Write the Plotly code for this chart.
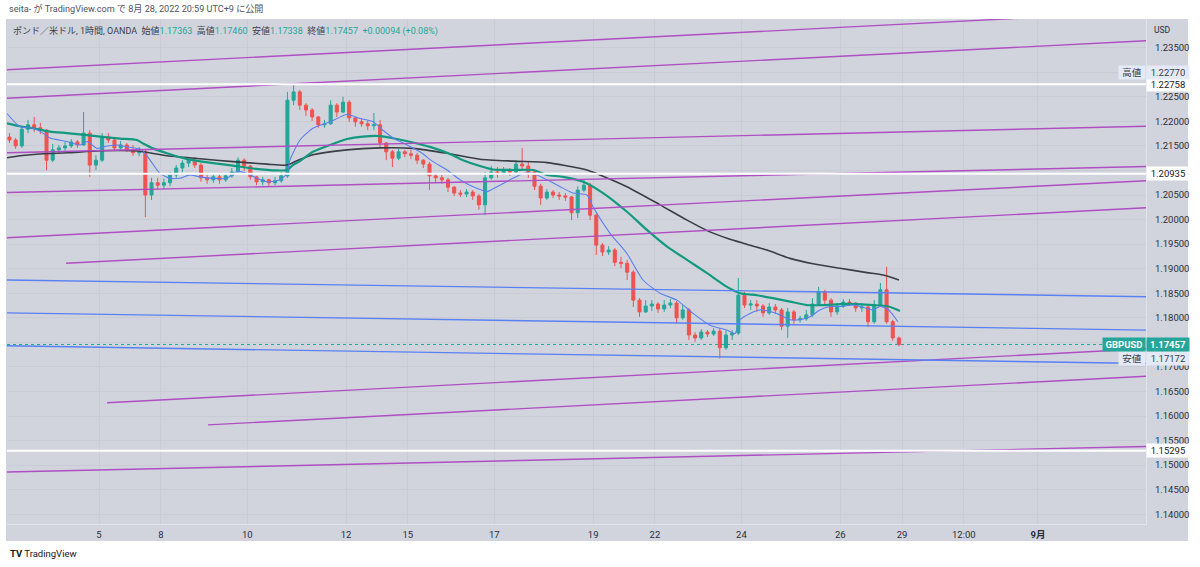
import plotly.graph_objects as go

# ---------------- data ----------------
# GBPUSD, OANDA. x unit = one hourly bar counted from Wed Aug 3 00:00 (JST), weekends removed.
# Candles are aggregated to 3-hour bars; first bar starts at hour 3.
BAR_HOURS = 3
FIRST_BAR_HOUR = 3
first_open = 1.2168

closes = [
    1.2162, 1.2150, 1.2184, 1.2193, 1.2187, 1.2182, 1.2121, 1.2142, 1.2146, 1.2150,
    1.2158, 1.2152, 1.2176, 1.2111, 1.2121, 1.2168, 1.2162, 1.2146, 1.2152, 1.2142,
    1.2136, 1.2138, 1.2050, 1.2075, 1.2070, 1.2075, 1.2091, 1.2105, 1.2115, 1.2121,
    1.2111, 1.2085, 1.2081, 1.2087, 1.2081, 1.2089, 1.2097, 1.2121, 1.2109, 1.2087,
    1.2077, 1.2081, 1.2075, 1.2079, 1.2089, 1.2243, 1.2260, 1.2233, 1.2223, 1.2209,
    1.2193, 1.2195, 1.2233, 1.2219, 1.2239, 1.2207, 1.2199, 1.2195, 1.2191, 1.2193,
    1.2156, 1.2138, 1.2125, 1.2138, 1.2134, 1.2131, 1.2121, 1.2113, 1.2089, 1.2085,
    1.2081, 1.2066, 1.2054, 1.2052, 1.2056, 1.2048, 1.2030, 1.2085, 1.2097, 1.2093,
    1.2101, 1.2097, 1.2113, 1.2109, 1.2097, 1.2068, 1.2044, 1.2056, 1.2050, 1.2048,
    1.2046, 1.2014, 1.2060, 1.2070, 1.2009, 1.1948, 1.1934, 1.1938, 1.1913, 1.1911,
    1.1893, 1.1836, 1.1812, 1.1824, 1.1828, 1.1818, 1.1826, 1.1830, 1.1800, 1.1816,
    1.1765, 1.1759, 1.1771, 1.1767, 1.1773, 1.1739, 1.1765, 1.1769, 1.1846, 1.1826,
    1.1828, 1.1824, 1.1810, 1.1822, 1.1816, 1.1783, 1.1812, 1.1796, 1.1798, 1.1806,
    1.1828, 1.1853, 1.1836, 1.1812, 1.1824, 1.1832, 1.1830, 1.1820, 1.1822, 1.1792,
    1.1826, 1.1857, 1.1792, 1.1759, 1.17457,
]
highs = [
    1.2176, 1.2166, 1.2191, 1.2203, 1.2209, 1.2197, 1.2184, 1.2154, 1.2152, 1.2158,
    1.2164, 1.2162, 1.2219, 1.2182, 1.2131, 1.2176, 1.2176, 1.2166, 1.2160, 1.2156,
    1.2152, 1.2148, 1.2142, 1.2085, 1.2085, 1.2083, 1.2097, 1.2111, 1.2121, 1.2127,
    1.2127, 1.2115, 1.2091, 1.2093, 1.2091, 1.2095, 1.2105, 1.2127, 1.2125, 1.2111,
    1.2089, 1.2087, 1.2083, 1.2087, 1.2097, 1.2260, 1.2277, 1.2264, 1.2237, 1.2227,
    1.2211, 1.2203, 1.2243, 1.2237, 1.2250, 1.2243, 1.2209, 1.2205, 1.2201, 1.2217,
    1.2203, 1.2158, 1.2142, 1.2144, 1.2142, 1.2142, 1.2136, 1.2123, 1.2117, 1.2093,
    1.2091, 1.2085, 1.2068, 1.2060, 1.2062, 1.2060, 1.2052, 1.2097, 1.2109, 1.2107,
    1.2107, 1.2105, 1.2121, 1.2146, 1.2117, 1.2101, 1.2073, 1.2062, 1.2060, 1.2056,
    1.2054, 1.2048, 1.2068, 1.2081, 1.2075, 1.2013, 1.1952, 1.1946, 1.1942, 1.1924,
    1.1918, 1.1897, 1.1840, 1.1836, 1.1836, 1.1832, 1.1836, 1.1838, 1.1834, 1.1826,
    1.1820, 1.1771, 1.1777, 1.1775, 1.1779, 1.1779, 1.1775, 1.1775, 1.1881, 1.1853,
    1.1836, 1.1836, 1.1828, 1.1830, 1.1828, 1.1820, 1.1820, 1.1816, 1.1804, 1.1816,
    1.1840, 1.1863, 1.1857, 1.1840, 1.1830, 1.1838, 1.1838, 1.1832, 1.1830, 1.1824,
    1.1836, 1.1871, 1.1904, 1.1796, 1.1762,
]
lows = [
    1.2156, 1.2144, 1.2146, 1.2176, 1.2178, 1.2174, 1.2101, 1.2117, 1.2136, 1.2140,
    1.2146, 1.2146, 1.2150, 1.2087, 1.2101, 1.2117, 1.2156, 1.2140, 1.2142, 1.2138,
    1.2130, 1.2129, 1.2005, 1.2040, 1.2060, 1.2062, 1.2068, 1.2085, 1.2097, 1.2107,
    1.2105, 1.2077, 1.2073, 1.2075, 1.2073, 1.2077, 1.2085, 1.2095, 1.2099, 1.2081,
    1.2070, 1.2070, 1.2068, 1.2070, 1.2075, 1.2085, 1.2233, 1.2223, 1.2211, 1.2201,
    1.2187, 1.2187, 1.2193, 1.2209, 1.2217, 1.2199, 1.2189, 1.2189, 1.2182, 1.2182,
    1.2146, 1.2121, 1.2107, 1.2121, 1.2127, 1.2123, 1.2113, 1.2105, 1.2060, 1.2075,
    1.2073, 1.2056, 1.2048, 1.2046, 1.2046, 1.2040, 1.2020, 1.2009, 1.2081, 1.2085,
    1.2091, 1.2089, 1.2095, 1.2101, 1.2085, 1.2060, 1.2030, 1.2040, 1.2044, 1.2040,
    1.2038, 1.1999, 1.2003, 1.2056, 1.1999, 1.1928, 1.1926, 1.1928, 1.1905, 1.1901,
    1.1877, 1.1822, 1.1802, 1.1810, 1.1814, 1.1810, 1.1812, 1.1820, 1.1789, 1.1796,
    1.1755, 1.1751, 1.1755, 1.1761, 1.1763, 1.1717, 1.1735, 1.1755, 1.1765, 1.1820,
    1.1816, 1.1812, 1.1802, 1.1806, 1.1808, 1.1775, 1.1759, 1.1788, 1.1790, 1.1794,
    1.1802, 1.1824, 1.1826, 1.1802, 1.1806, 1.1820, 1.1824, 1.1812, 1.1812, 1.1781,
    1.1788, 1.1822, 1.1788, 1.1753, 1.1742,
]

# moving averages, (hour, price) points
ma_fast = [(3.3, 1.2216), (9.6, 1.2189), (15.9, 1.2186), (20.8, 1.2176), (24.2, 1.2166), (32.4, 1.2159),
           (38.8, 1.2152), (42.2, 1.2159), (47.0, 1.2145), (49.9, 1.2148), (56.7, 1.2152), (61.6, 1.2148),
           (66.4, 1.2145), (68.9, 1.2142), (72.8, 1.2121), (77.6, 1.2094), (82.5, 1.2084), (87.3, 1.2084),
           (92.2, 1.2091), (97.0, 1.2087), (103.4, 1.2084), (110.1, 1.2084), (115.0, 1.2098), (119.9, 1.2094),
           (124.7, 1.2084), (129.6, 1.2077), (135.9, 1.2081), (139.3, 1.2094), (140.7, 1.2121), (145.6, 1.2162),
           (151.9, 1.2186), (160.2, 1.2199), (168.4, 1.2214), (174.7, 1.2206), (181.1, 1.2199), (185.9, 1.2182),
           (190.8, 1.2166), (197.6, 1.2152), (203.9, 1.2138), (210.2, 1.2118), (217.0, 1.2101), (223.3, 1.2081),
           (229.6, 1.2067), (236.4, 1.2057), (241.3, 1.2067), (249.1, 1.2084), (253.9, 1.2094), (258.8, 1.2094),
           (265.6, 1.2081), (271.9, 1.2067), (278.2, 1.2054), (285.0, 1.2050), (287.9, 1.2026), (296.2, 1.1972),
           (304.4, 1.1931), (312.2, 1.1877), (320.5, 1.1850), (328.7, 1.1836), (336.5, 1.1809), (344.7, 1.1785),
           (353.0, 1.1775), (356.9, 1.1768), (359.3, 1.1796), (364.2, 1.1809), (369.0, 1.1816), (373.9, 1.1813),
           (378.7, 1.1806), (383.6, 1.1796), (388.4, 1.1796), (393.3, 1.1802), (398.1, 1.1816), (403.0, 1.1823),
           (407.9, 1.1823), (414.2, 1.1826), (421.0, 1.1819), (423.9, 1.1816), (427.3, 1.1823), (430.7, 1.1819),
           (433.6, 1.1806), (436.0, 1.1792)]
ma_mid = [(3.3, 1.2196), (9.6, 1.2190), (15.9, 1.2186), (24.2, 1.2179), (32.4, 1.2176), (42.2, 1.2172),
          (48.5, 1.2169), (58.2, 1.2165), (66.4, 1.2162), (69.4, 1.2155), (74.2, 1.2145), (81.0, 1.2135),
          (87.3, 1.2127), (93.6, 1.2121), (103.4, 1.2115), (113.1, 1.2110), (122.8, 1.2104), (134.4, 1.2100),
          (139.3, 1.2101), (142.2, 1.2111), (145.6, 1.2119), (151.9, 1.2138), (160.2, 1.2152), (168.4, 1.2164),
          (176.2, 1.2169), (184.5, 1.2170), (192.7, 1.2164), (200.5, 1.2157), (208.7, 1.2148), (217.0, 1.2136),
          (224.8, 1.2121), (233.0, 1.2109), (239.3, 1.2102), (249.1, 1.2101), (258.8, 1.2101), (265.6, 1.2091),
          (273.3, 1.2087), (283.1, 1.2077), (292.8, 1.2054), (304.4, 1.2016), (314.1, 1.1979), (323.9, 1.1945),
          (333.6, 1.1918), (343.3, 1.1891), (353.0, 1.1863), (359.3, 1.1850), (367.6, 1.1846), (375.3, 1.1840),
          (383.6, 1.1833), (391.8, 1.1826), (399.6, 1.1826), (407.9, 1.1828), (416.1, 1.1828), (423.9, 1.1826),
          (430.7, 1.1824), (433.6, 1.1820), (437.0, 1.1814)]
ma_slow = [(3.3, 1.2126), (9.6, 1.2130), (20.8, 1.2134), (32.4, 1.2136), (48.5, 1.2140), (64.5, 1.2140),
           (69.4, 1.2138), (81.0, 1.2130), (97.0, 1.2124), (113.1, 1.2118), (129.6, 1.2113), (139.3, 1.2111),
           (144.1, 1.2120), (151.9, 1.2132), (168.4, 1.2142), (184.5, 1.2146), (200.5, 1.2145), (217.0, 1.2135),
           (233.0, 1.2123), (249.1, 1.2119), (265.6, 1.2116), (274.3, 1.2110), (285.0, 1.2101), (291.3, 1.2091),
           (304.4, 1.2067), (320.5, 1.2030), (333.6, 1.1999), (344.7, 1.1975), (353.0, 1.1962), (360.8, 1.1952),
           (372.4, 1.1938), (383.6, 1.1921), (394.8, 1.1910), (407.9, 1.1901), (421.0, 1.1892), (428.8, 1.1887),
           (436.5, 1.1877)]

# user-drawn trend lines: (hour0, price0, hour1, price1)
purple_lines = [
    (3.3, 1.2305, 556.5, 1.2423),
    (3.3, 1.2247, 556.5, 1.2364),
    (3.3, 1.2136, 556.5, 1.2190),
    (3.3, 1.2055, 556.5, 1.2108),
    (3.3, 1.1963, 556.5, 1.2079),
    (32.0, 1.1911, 556.5, 1.2024),
    (51.9, 1.1627, 556.5, 1.1737),
    (100.9, 1.1582, 556.5, 1.1681),
    (3.3, 1.1486, 556.5, 1.1538),
]
blue_lines = [
    (3.3, 1.1877, 556.5, 1.1843),
    (3.3, 1.1810, 556.5, 1.1775),
    (3.3, 1.1743, 556.5, 1.1707),
]
white_levels = [1.22758, 1.20935, 1.15295]

last_price = 1.17457
high_price = 1.22770
low_price = 1.17172
high_label_pos = 1.2300   # TradingView nudges the high label up to avoid overlap

x_tick_vals = [48, 78, 120, 168, 198, 240, 288, 318, 360, 408, 438, 468, 504]
x_tick_text = ["5", "8", "10", "12", "15", "17", "19", "22", "24", "26", "29", "12:00", "<b>9月</b>"]
y_tick_vals = [1.140, 1.145, 1.150, 1.155, 1.160, 1.165, 1.170, 1.175, 1.180, 1.185,
               1.190, 1.195, 1.200, 1.205, 1.210, 1.215, 1.220, 1.225, 1.230, 1.235]
# labels hidden behind the price boxes in the reference are left blank
y_tick_text = ["1.14000", "1.14500", "1.15000", "1.15500", "1.16000", "1.16500", "1.17000", "", "1.18000",
               "1.18500", "1.19000", "1.19500", "1.20000", "1.20500", "", "1.21500", "1.22000", "1.22500",
               "", "1.23500"]

header_ohlc = [("始値", "1.17363"), ("高値", "1.17460"), ("安値", "1.17338"), ("終値", "1.17457")]
header_change = "+0.00094 (+0.08%)"

X_RANGE = [3.3, 556.5]
Y_RANGE = [1.13802, 1.24084]

# ---------------- styling ----------------
FONT = "Roboto, 'Noto Sans CJK JP', sans-serif"
BG = "#d1d4dc"
GRID = "#c9ccd4"
UP = "#26a69a"
DOWN = "#ef5350"
PURPLE = "#b04ec4"
BLUE = "#5a80f4"
TEXT = "#2a2e39"
FS = 9.5

assert len(closes) == len(highs) == len(lows)
n = len(closes)
xs = [FIRST_BAR_HOUR + BAR_HOURS * k + BAR_HOURS / 2 for k in range(n)]
opens = [first_open] + closes[:-1]

fig = go.Figure()

fig.add_trace(go.Candlestick(
    x=xs, open=opens, high=highs, low=lows, close=closes,
    increasing=dict(line=dict(color=UP, width=1), fillcolor=UP),
    decreasing=dict(line=dict(color=DOWN, width=1), fillcolor=DOWN),
    whiskerwidth=0, hoverinfo="skip",
))

for pts, color, width in [(ma_slow, "#3a3d45", 1.6), (ma_mid, "#12997f", 2.2), (ma_fast, "#5b7ef2", 1.1)]:
    fig.add_trace(go.Scatter(x=[p[0] for p in pts], y=[p[1] for p in pts], mode="lines",
                             line=dict(color=color, width=width, shape="spline", smoothing=0.6),
                             hoverinfo="skip"))

for (x0, y0, x1, y1) in purple_lines:
    fig.add_trace(go.Scatter(x=[x0, x1], y=[y0, y1], mode="lines",
                             line=dict(color=PURPLE, width=1.4), hoverinfo="skip"))
for (x0, y0, x1, y1) in blue_lines:
    fig.add_trace(go.Scatter(x=[x0, x1], y=[y0, y1], mode="lines",
                             line=dict(color=BLUE, width=1.4), hoverinfo="skip"))
for lv in white_levels:
    fig.add_trace(go.Scatter(x=X_RANGE, y=[lv, lv], mode="lines",
                             line=dict(color="#ffffff", width=2), hoverinfo="skip"))

fig.add_trace(go.Scatter(x=X_RANGE, y=[last_price, last_price], mode="lines",
                         line=dict(color=UP, width=1, dash="dot"), hoverinfo="skip"))

# ---------------- layout ----------------
W, H = 1200, 567
L, R, T, B = 7, 54, 19, 43
PW, PH = W - L - R, H - T - B


def px_to_paper_x(px):
    return (px - L) / PW


def py_to_paper_y(py):
    return (H - B - py) / PH


fig.update_layout(
    width=W, height=H,
    margin=dict(l=L, r=R, t=T, b=B, pad=0),
    paper_bgcolor="#ffffff", plot_bgcolor=BG,
    showlegend=False, hovermode=False,
    font=dict(family=FONT, size=FS, color=TEXT),
    xaxis=dict(range=X_RANGE, tickmode="array", tickvals=x_tick_vals, ticktext=x_tick_text,
               showgrid=True, gridcolor=GRID, gridwidth=1, zeroline=False,
               showline=True, linecolor="#e2e4ea", linewidth=1, ticks="", ticklen=0,
               ticklabelstandoff=2, rangeslider=dict(visible=False),
               tickfont=dict(size=FS, color=TEXT)),
    yaxis=dict(range=Y_RANGE, side="right", tickmode="array", tickvals=y_tick_vals, ticktext=y_tick_text,
               showgrid=True, gridcolor=GRID, gridwidth=1, zeroline=False,
               showline=True, linecolor="#e2e4ea", linewidth=1, ticks="", ticklen=0,
               ticklabelstandoff=6, tickfont=dict(size=FS, color=TEXT)),
)

# chart frame background (covers axis bands)
fig.add_shape(type="rect", xref="paper", yref="paper",
              x0=px_to_paper_x(6), x1=px_to_paper_x(1188), y0=py_to_paper_y(541), y1=1,
              fillcolor=BG, line=dict(width=0), layer="below")

ann = []
# top publish line
ann.append(dict(xref="paper", yref="paper", x=px_to_paper_x(7), y=py_to_paper_y(9),
                xanchor="left", yanchor="middle", showarrow=False,
                text="seita- が TradingView.com で 8月 28, 2022 20:59 UTC+9 に公開",
                font=dict(size=9.1, color="#50535e")))
# legend / OHLC header
parts = ["ポンド／米ドル, 1時間, OANDA"]
for lab, val in header_ohlc:
    parts.append(f'{lab}<span style="color:{UP}">{val}</span>')
parts.append(f'<span style="color:{UP}">{header_change}</span>')
ann.append(dict(xref="paper", yref="paper", x=px_to_paper_x(11), y=py_to_paper_y(31),
                xanchor="left", yanchor="middle", showarrow=False,
                text="\u00a0\u00a0".join(parts), font=dict(size=9.0, color="#3a3e49")))
# USD label
ann.append(dict(xref="paper", yref="paper", x=px_to_paper_x(1152), y=py_to_paper_y(30),
                xanchor="left", yanchor="middle", showarrow=False, text="USD",
                font=dict(size=8.5, color=TEXT)))

AX_L = px_to_paper_x(1146)


def axis_box(price, text, bg, fg, width=40):
    return dict(xref="paper", yref="y", x=AX_L, y=price, xanchor="left", yanchor="middle",
                showarrow=False, text=text, bgcolor=bg, borderpad=1, width=width, align="center",
                font=dict(size=FS, color=fg))


def left_box(price, text, bg, fg, width):
    return dict(xref="paper", yref="y", x=1.0, y=price, xanchor="right", yanchor="middle",
                showarrow=False, text=text, bgcolor=bg, borderpad=1, width=width, align="center",
                font=dict(size=FS, color=fg))


LIGHT = "#e3eaf6"
for lv in white_levels:
    ann.append(axis_box(lv, f"{lv:.5f}", "#ffffff", "#131722"))
ann.append(axis_box(high_label_pos, f"{high_price:.5f}", LIGHT, "#3a3e49"))
ann.append(left_box(high_label_pos, "高値", LIGHT, "#3a3e49", 24))
ann.append(axis_box(low_price, f"{low_price:.5f}", LIGHT, "#3a3e49"))
ann.append(left_box(low_price, "安値", LIGHT, "#3a3e49", 24))
ann.append(axis_box(last_price, f"<b>{last_price:.5f}</b>", UP, "#ffffff"))
ann.append(left_box(last_price, "<b>GBPUSD</b>", UP, "#ffffff", 40))

# TradingView footer
ann.append(dict(xref="paper", yref="paper", x=px_to_paper_x(8), y=py_to_paper_y(553),
                xanchor="left", yanchor="middle", showarrow=False,
                text="<b>TV</b> TradingView", font=dict(size=9.5, color="#131722")))

fig.update_layout(annotations=ann)

# remove the default 8px page margin so the figure sits at the window origin
fig.write_html("out.html", config={"displayModeBar": False},
               post_script="document.body.style.margin='0';")
